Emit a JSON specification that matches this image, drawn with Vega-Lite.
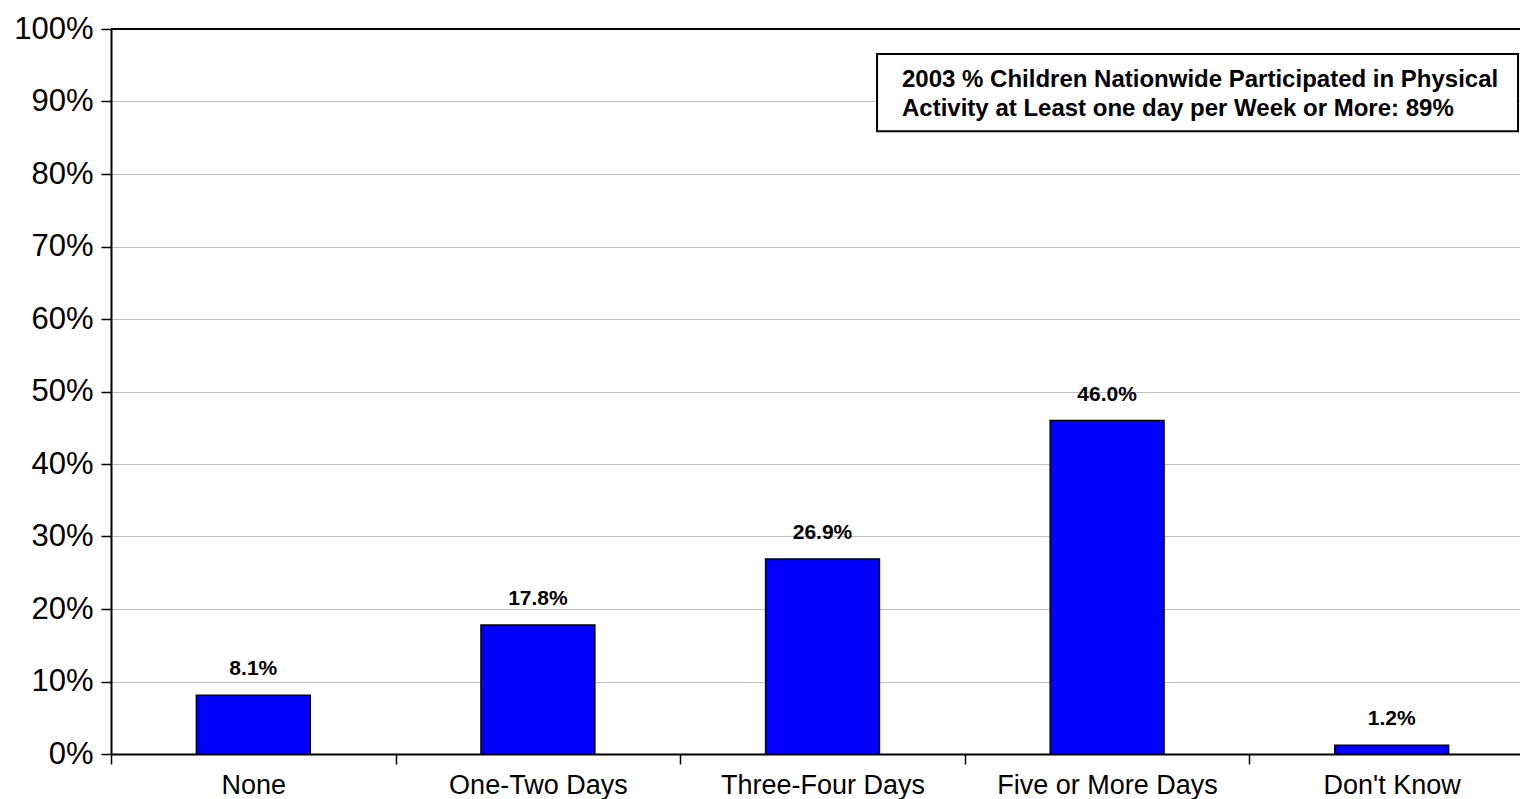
{
  "$schema": "https://vega.github.io/schema/vega-lite/v6.json",
  "autosize": "none",
  "width": 1409,
  "height": 725,
  "padding": {"left": 111, "top": 29, "right": 0, "bottom": 45},
  "background": "white",
  "config": {
    "view": {"stroke": null},
    "font": "Liberation Sans"
  },
  "datasets": {
    "bars": [
      {"category": "None", "value": 0.081, "label": "8.1%"},
      {"category": "One-Two Days", "value": 0.178, "label": "17.8%"},
      {"category": "Three-Four Days", "value": 0.269, "label": "26.9%"},
      {"category": "Five or More Days", "value": 0.46, "label": "46.0%"},
      {"category": "Don't Know", "value": 0.012, "label": "1.2%"}
    ],
    "box": [
      {"x1": 0.5437, "x2": 0.9986, "y1": 0.859, "y2": 0.9655}
    ],
    "note": [
      {"tx": 0.5614, "ty": 0.930, "text": "2003 % Children Nationwide Participated in Physical"},
      {"tx": 0.5614, "ty": 0.890, "text": "Activity at Least one day per Week or More: 89%"}
    ],
    "top": [{"v": 1}]
  },
  "layer": [
    {
      "layer": [
        {
          "data": {"name": "bars"},
          "mark": {"type": "bar", "color": "#0000FF", "stroke": "black", "strokeWidth": 1.5, "width": {"band": 0.4}},
          "encoding": {
            "x": {
              "field": "category", "type": "nominal", "sort": null,
              "scale": {"range": [0, 1423], "paddingInner": 0, "paddingOuter": 0},
              "axis": {
                "title": null, "labelAngle": 0, "labelFontSize": 27, "labelColor": "black", "labelLimit": 0,
                "labelBaseline": "top",
                "domainColor": "black", "domainWidth": 2, "tickColor": "black", "tickWidth": 1.5,
                "tickSize": 10, "tickBand": "extent", "labelPadding": 8, "grid": false
              }
            },
            "y": {
              "field": "value", "type": "quantitative",
              "scale": {"domain": [0, 1], "nice": false},
              "axis": {
                "title": null, "format": ".0%", "values": [0, 0.1, 0.2, 0.3, 0.4, 0.5, 0.6, 0.7, 0.8, 0.9, 1],
                "labelFontSize": 31, "labelColor": "black", "domainColor": "black", "domainWidth": 2,
                "tickColor": "black", "tickWidth": 1.5, "tickSize": 10, "labelPadding": 8,
                "grid": true, "gridColor": "#c0c0c0", "gridWidth": 1
              }
            }
          }
        },
        {
          "data": {"name": "bars"},
          "mark": {"type": "text", "fontSize": 21, "fontWeight": "bold", "baseline": "alphabetic", "dy": -20, "color": "black"},
          "encoding": {
            "x": {"field": "category", "type": "nominal", "sort": null},
            "y": {"field": "value", "type": "quantitative"},
            "text": {"field": "label"}
          }
        },
        {
          "data": {"name": "top"},
          "mark": {"type": "rule", "color": "black", "strokeWidth": 2},
          "encoding": {"y": {"field": "v", "type": "quantitative"}}
        }
      ]
    },
    {
      "layer": [
        {
          "data": {"name": "box"},
          "mark": {"type": "rect", "fill": "white", "stroke": "black", "strokeWidth": 2},
          "encoding": {
            "x": {"field": "x1", "type": "quantitative", "scale": {"domain": [0, 1], "nice": false}, "axis": null},
            "x2": {"field": "x2"},
            "y": {"field": "y1", "type": "quantitative"},
            "y2": {"field": "y2"}
          }
        },
        {
          "data": {"name": "note"},
          "mark": {"type": "text", "fontSize": 24, "fontWeight": "bold", "align": "left", "baseline": "middle", "color": "black"},
          "encoding": {
            "x": {"field": "tx", "type": "quantitative"},
            "y": {"field": "ty", "type": "quantitative"},
            "text": {"field": "text"}
          }
        }
      ]
    }
  ],
  "resolve": {"scale": {"x": "independent"}}
}
